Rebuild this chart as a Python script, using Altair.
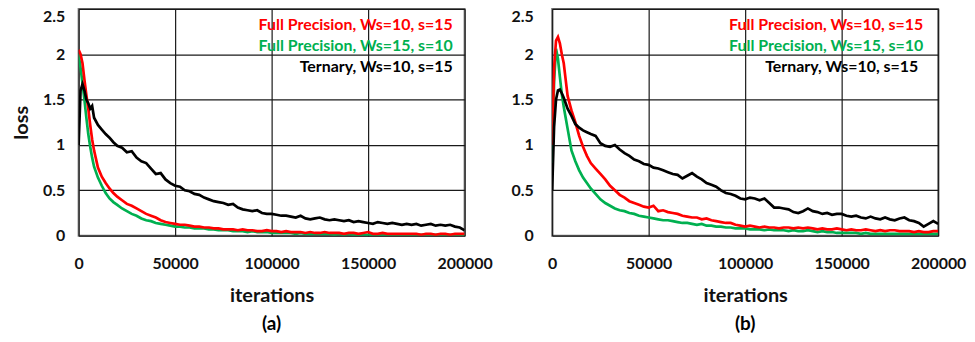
import altair as alt
import pandas as pd

# x grid (iterations)
iters = [0, 1000, 2000, 3000, 4000, 5000, 6000, 7000, 8000, 10000, 12000, 14000, 16000, 18000] + list(range(20000, 200001, 2500))

series_names = ["Full Precision, Ws=10, s=15", "Full Precision, Ws=15, s=10", "Ternary, Ws=10, s=15"]
series_colors = ["#ff0000", "#00b050", "#000000"]

# ---- panel (a) ----
a_red = [2.05, 2.00, 1.90, 1.72, 1.55, 1.40, 1.22, 1.06, 0.94, 0.75, 0.65, 0.58, 0.52, 0.47,
         0.43, 0.39, 0.35, 0.33, 0.30, 0.27, 0.24, 0.22, 0.20, 0.17,
         0.15, 0.14, 0.13, 0.12, 0.12, 0.11, 0.10, 0.10, 0.09, 0.09,
         0.08, 0.08, 0.07, 0.07, 0.07, 0.06, 0.07, 0.06, 0.06, 0.05,
         0.05, 0.06, 0.05, 0.05, 0.04, 0.05, 0.04, 0.04, 0.04, 0.03,
         0.04, 0.03, 0.03, 0.04, 0.03, 0.03, 0.03, 0.02, 0.03, 0.03,
         0.02, 0.03, 0.04, 0.02, 0.02, 0.03, 0.02, 0.02, 0.02, 0.02,
         0.02, 0.02, 0.02, 0.01, 0.02, 0.02, 0.01, 0.02, 0.02, 0.01,
         0.02, 0.02, 0.02]
a_green = [2.00, 1.85, 1.68, 1.50, 1.30, 1.12, 0.98, 0.86, 0.76, 0.64, 0.55, 0.47, 0.41, 0.37,
           0.34, 0.30, 0.27, 0.24, 0.22, 0.19, 0.17, 0.16, 0.14, 0.13,
           0.12, 0.11, 0.10, 0.10, 0.09, 0.09, 0.08, 0.08, 0.08, 0.07,
           0.07, 0.06, 0.06, 0.06, 0.05, 0.05, 0.05, 0.04, 0.05, 0.04,
           0.04, 0.04, 0.03, 0.03, 0.03, 0.03, 0.03, 0.02, 0.03, 0.02,
           0.02, 0.02, 0.02, 0.02, 0.02, 0.01, 0.02, 0.01, 0.02, 0.01,
           0.01, 0.01, 0.01, 0.01, 0.01, 0.01, 0.01, 0.01, 0.01, 0.01,
           0.01, 0.01, 0.01, 0.01, 0.01, 0.01, 0.01, 0.01, 0.01, 0.01,
           0.01, 0.01, 0.01]
a_black = [1.00, 1.60, 1.67, 1.60, 1.50, 1.46, 1.40, 1.43, 1.30, 1.22, 1.17, 1.12, 1.08, 1.03,
           0.99, 0.97, 0.92, 0.93, 0.86, 0.82, 0.80, 0.74, 0.68, 0.69,
           0.62, 0.58, 0.55, 0.54, 0.50, 0.49, 0.46, 0.45, 0.42, 0.40,
           0.38, 0.37, 0.36, 0.34, 0.35, 0.31, 0.29, 0.28, 0.27, 0.28,
           0.25, 0.24, 0.24, 0.23, 0.22, 0.22, 0.21, 0.20, 0.22, 0.19,
           0.18, 0.19, 0.20, 0.18, 0.17, 0.18, 0.17, 0.16, 0.17, 0.15,
           0.16, 0.15, 0.14, 0.13, 0.15, 0.14, 0.13, 0.14, 0.13, 0.12,
           0.13, 0.12, 0.13, 0.11, 0.12, 0.13, 0.11, 0.12, 0.11, 0.12,
           0.10, 0.09, 0.06]

# ---- panel (b) ----
b_red = [1.00, 1.85, 2.15, 2.19, 2.12, 2.00, 1.90, 1.72, 1.54, 1.38, 1.25, 1.10, 0.98, 0.88,
         0.80, 0.74, 0.68, 0.62, 0.55, 0.50, 0.45, 0.42, 0.38, 0.36,
         0.34, 0.32, 0.31, 0.33, 0.27, 0.28, 0.26, 0.25, 0.24, 0.22,
         0.21, 0.20, 0.20, 0.18, 0.19, 0.17, 0.16, 0.15, 0.14, 0.14,
         0.12, 0.11, 0.10, 0.11, 0.10, 0.09, 0.10, 0.09, 0.09, 0.08,
         0.09, 0.09, 0.08, 0.09, 0.08, 0.09, 0.08, 0.07, 0.08, 0.07,
         0.07, 0.08, 0.07, 0.06, 0.07, 0.06, 0.06, 0.07, 0.06, 0.05,
         0.06, 0.05, 0.06, 0.06, 0.05, 0.05, 0.05, 0.04, 0.05, 0.04,
         0.04, 0.05, 0.05]
b_green = [0.80, 1.70, 2.06, 1.95, 1.75, 1.56, 1.42, 1.30, 1.18, 0.94, 0.82, 0.72, 0.64, 0.58,
           0.52, 0.46, 0.40, 0.36, 0.33, 0.30, 0.28, 0.27, 0.25, 0.24,
           0.22, 0.21, 0.20, 0.19, 0.18, 0.17, 0.17, 0.16, 0.15, 0.14,
           0.14, 0.13, 0.12, 0.13, 0.11, 0.11, 0.10, 0.10, 0.09, 0.09,
           0.08, 0.08, 0.08, 0.07, 0.07, 0.07, 0.06, 0.07, 0.06, 0.06,
           0.06, 0.05, 0.06, 0.05, 0.05, 0.06, 0.05, 0.04, 0.05, 0.04,
           0.04, 0.03, 0.03, 0.03, 0.03, 0.03, 0.02, 0.03, 0.02, 0.02,
           0.02, 0.02, 0.02, 0.02, 0.02, 0.02, 0.02, 0.02, 0.02, 0.02,
           0.02, 0.02, 0.02]
b_black = [0.50, 1.20, 1.50, 1.60, 1.61, 1.57, 1.52, 1.46, 1.40, 1.32, 1.23, 1.19, 1.16, 1.14,
           1.12, 1.10, 1.02, 0.99, 0.98, 1.00, 0.95, 0.91, 0.88, 0.84,
           0.82, 0.79, 0.78, 0.75, 0.74, 0.72, 0.70, 0.68, 0.67, 0.63,
           0.66, 0.69, 0.65, 0.62, 0.58, 0.56, 0.54, 0.50, 0.47, 0.46,
           0.44, 0.41, 0.40, 0.42, 0.41, 0.39, 0.41, 0.36, 0.31, 0.31,
           0.30, 0.29, 0.26, 0.25, 0.27, 0.30, 0.27, 0.26, 0.24, 0.25,
           0.23, 0.24, 0.24, 0.22, 0.21, 0.22, 0.20, 0.19, 0.21, 0.19,
           0.18, 0.20, 0.18, 0.17, 0.19, 0.20, 0.17, 0.16, 0.14, 0.10,
           0.13, 0.16, 0.13]

x_ticks = [0, 50000, 100000, 150000, 200000]
y_ticks = [0, 0.5, 1, 1.5, 2, 2.5]

W, H = 388, 228
FONT = "Lato"


def make_df(red, green, black):
    rows = []
    for name, vals in zip(series_names, [red, green, black]):
        assert len(vals) == len(iters), (name, len(vals))
        for it, v in zip(iters, vals):
            rows.append({"iter": it, "loss": v, "series": name})
    return pd.DataFrame(rows)


def panel(df, tag, ytitle, label_pad, legend_x):
    x_enc = alt.X("iter:Q", scale=alt.Scale(domain=[0, 200000], nice=False),
                  axis=alt.Axis(values=x_ticks, format="d", title="iterations", labelFlush=False,
                                labelPadding=20, titlePadding=14))
    y_axis_kw = dict(values=y_ticks, labelExpr="'' + datum.value", labelPadding=label_pad,
                     labelBaseline=alt.expr("datum.value == 2.5 ? 'top' : 'middle'"))
    if ytitle:
        y_axis_kw.update(title=ytitle, titlePadding=11)
    else:
        y_axis_kw.update(title=None)
    y_enc = alt.Y("loss:Q", scale=alt.Scale(domain=[0, 2.5], nice=False), axis=alt.Axis(**y_axis_kw))
    layers = []
    for name, col in zip([series_names[1], series_names[0], series_names[2]],
                         [series_colors[1], series_colors[0], series_colors[2]]):
        layers.append(
            alt.Chart(df[df.series == name]).mark_line(strokeWidth=2.7, color=col, clip=True)
            .encode(x=x_enc, y=y_enc)
        )
    for i, (name, col) in enumerate(zip(series_names, series_colors)):
        lab = pd.DataFrame({"t": [name]})
        layers.append(
            alt.Chart(lab).mark_text(align="right", baseline="middle", font=FONT, fontWeight="bold",
                                     fontSize=16, color=col)
            .encode(text="t:N", x=alt.value(legend_x[i]), y=alt.value(16 + 21 * i))
        )
    cap = pd.DataFrame({"t": [tag]})
    layers.append(
        alt.Chart(cap).mark_text(align="center", baseline="middle", font=FONT, fontWeight="bold",
                                 fontSize=19, color="black")
        .encode(text="t:N", x=alt.value(W / 2), y=alt.value(H + 89))
    )
    return alt.layer(*layers).properties(width=W, height=H)


pa = panel(make_df(a_red, a_green, a_black), "(a)", "loss", 14, [376, 376, 376])
pb = panel(make_df(b_red, b_green, b_black), "(b)", None, 19, [373, 373, 368])

chart = alt.hconcat(pa, pb, spacing=88, bounds="flush").properties(
    padding={"left": 2, "top": -1, "right": 0, "bottom": 0}, background="white"
).configure_view(stroke="#7a7a7a", strokeWidth=2).configure_axis(
    grid=True, gridColor="#1a1a1a", gridWidth=1.2, domain=False, ticks=False,
    labelFont=FONT, labelFontWeight="bold", labelFontSize=16, labelColor="#111",
    titleFont=FONT, titleFontWeight="bold", titleFontSize=20, titleColor="#111"
)

chart.save("out.html", embed_options={"renderer": "svg", "actions": False})
